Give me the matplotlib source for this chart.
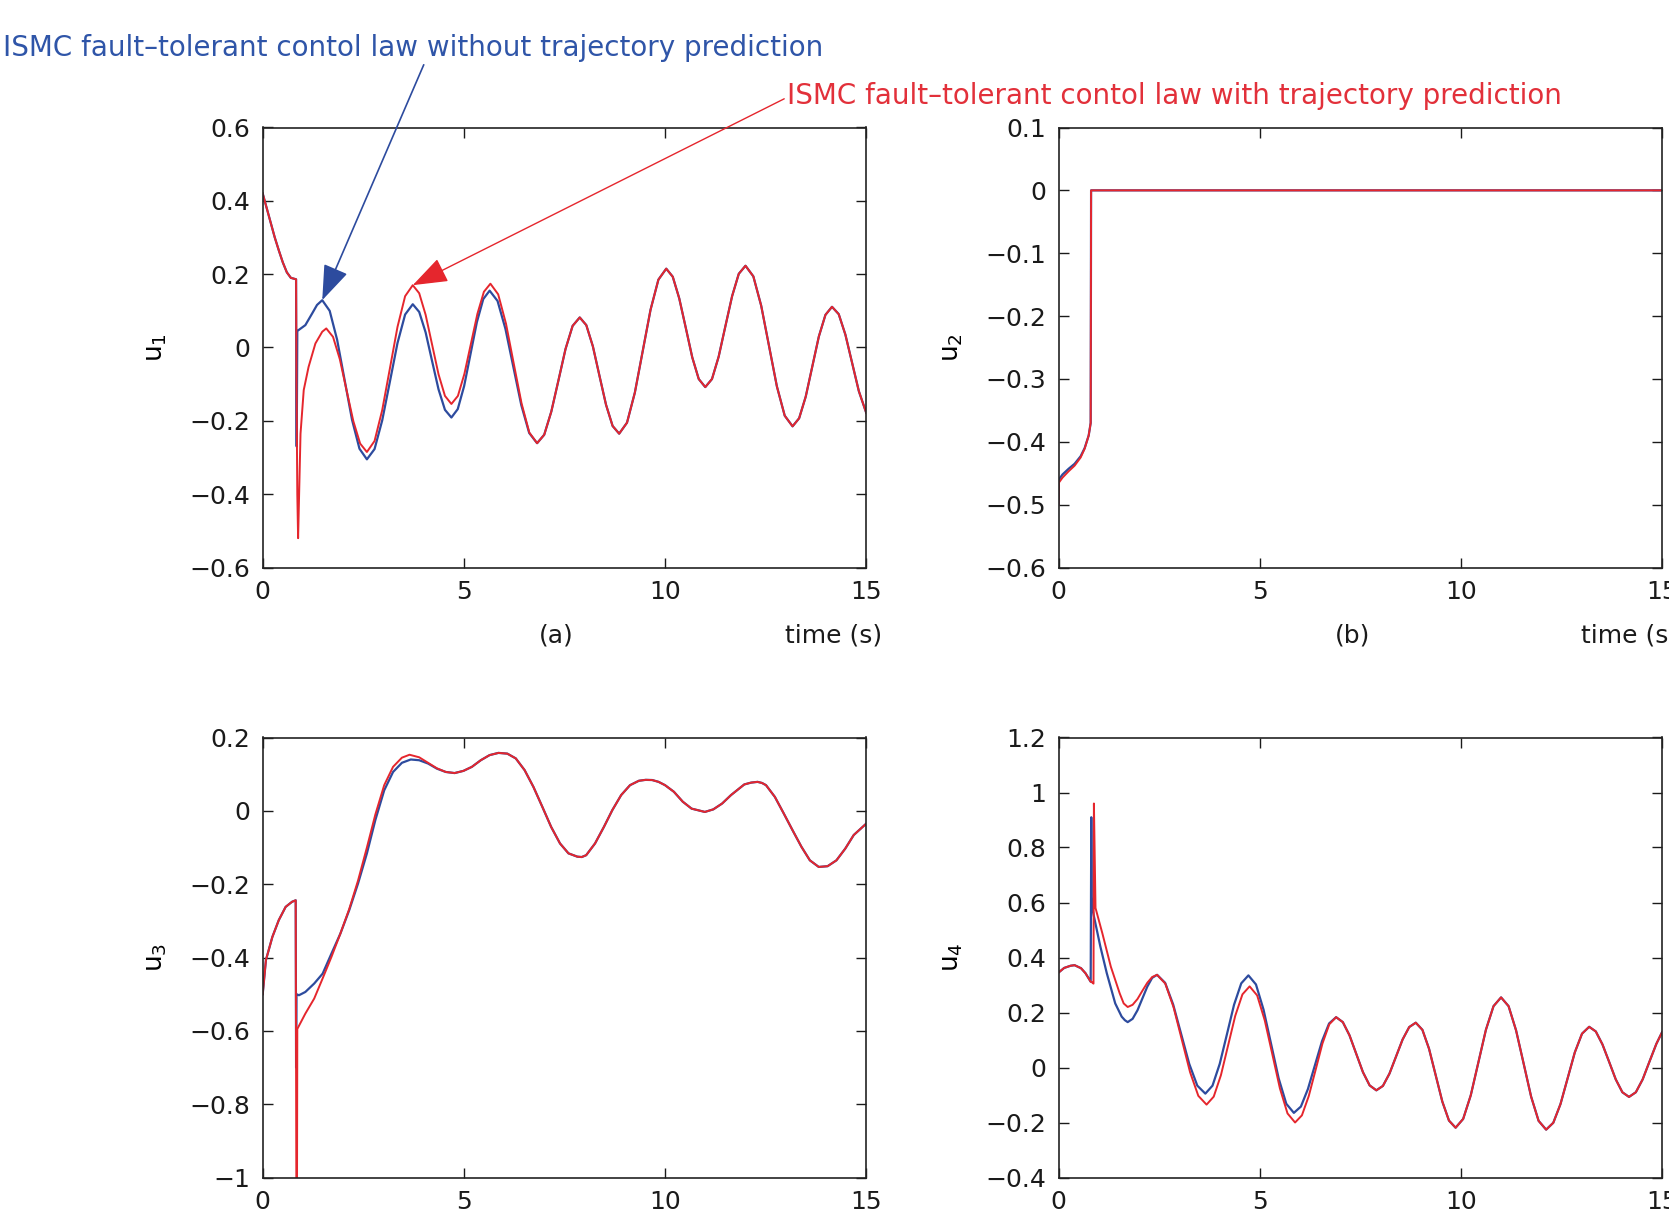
import numpy as np
import matplotlib.pyplot as plt
from matplotlib.ticker import FuncFormatter

# ---- data (time in s) ----
# u1 : common part before the fault, then the two controllers, then the common tail
a_start_t = [0.0, 0.1, 0.2, 0.3, 0.4, 0.5, 0.6, 0.7, 0.83]
a_start = [0.42, 0.38, 0.34, 0.30, 0.265, 0.232, 0.205, 0.19, 0.186]
a_blue_t = [0.835, 0.845, 0.86, 1.06, 1.23, 1.35, 1.48, 1.665, 1.85, 2.035, 2.22, 2.405, 2.59, 2.78, 2.97,
            3.16, 3.35, 3.54, 3.73, 3.89, 4.05, 4.21, 4.37, 4.53, 4.69, 4.848, 5.007, 5.165, 5.323, 5.482,
            5.64, 5.837, 6.033, 6.23, 6.427, 6.623]
a_blue = [-0.10, -0.27, 0.045, 0.061, 0.093, 0.116, 0.129, 0.100, 0.021, -0.088, -0.197, -0.276, -0.305,
          -0.277, -0.199, -0.094, 0.012, 0.090, 0.118, 0.097, 0.041, -0.037, -0.114, -0.170, -0.191, -0.168,
          -0.105, -0.018, 0.069, 0.132, 0.155, 0.127, 0.051, -0.053, -0.157, -0.233]
a_red_t = [0.84, 0.86, 0.88, 0.94, 1.02, 1.14, 1.31, 1.48, 1.58, 1.748, 1.917, 2.085, 2.253, 2.422, 2.59,
           2.78, 2.97, 3.16, 3.35, 3.54, 3.73, 3.89, 4.05, 4.21, 4.37, 4.53, 4.69, 4.852, 5.013, 5.175, 5.337,
           5.498, 5.66, 5.853, 6.047, 6.24, 6.433, 6.627]
a_red = [-0.10, -0.40, -0.52, -0.235, -0.116, -0.053, 0.011, 0.043, 0.052, 0.029, -0.032, -0.117, -0.201,
         -0.262, -0.285, -0.255, -0.171, -0.058, 0.056, 0.140, 0.17, 0.148, 0.089, 0.008, -0.073, -0.132,
         -0.154, -0.132, -0.072, 0.010, 0.092, 0.152, 0.174, 0.145, 0.065, -0.044, -0.152, -0.232]
a_tail_t = [6.82, 6.997, 7.173, 7.35, 7.527, 7.703, 7.88, 8.043, 8.207, 8.37, 8.533, 8.697, 8.86, 9.055, 9.25,
            9.445, 9.64, 9.835, 10.03, 10.192, 10.353, 10.515, 10.677, 10.838, 11.0, 11.167, 11.333, 11.5,
            11.667, 11.833, 12.0, 12.195, 12.39, 12.585, 12.78, 12.975, 13.17, 13.333, 13.497, 13.66,
            13.823, 13.987, 14.15, 14.317, 14.483, 14.65, 14.817, 15.0]
a_tail = [-0.261, -0.238, -0.175, -0.090, -0.004, 0.059, 0.082, 0.061, 0.003, -0.077, -0.156, -0.214,
          -0.235, -0.205, -0.123, -0.010, 0.103, 0.185, 0.215, 0.193, 0.134, 0.054, -0.027, -0.086, -0.108,
          -0.086, -0.025, 0.058, 0.140, 0.201, 0.223, 0.194, 0.114, 0.004, -0.106, -0.186, -0.215, -0.193,
          -0.134, -0.052, 0.030, 0.089, 0.111, 0.091, 0.035, -0.042, -0.119, -0.178]

# u2
b_t = [0.0, 0.01, 0.1, 0.25, 0.4, 0.55, 0.65, 0.75, 0.8, 0.81, 15.0]
b_blue = [-0.5, -0.46, -0.452, -0.443, -0.435, -0.423, -0.41, -0.39, -0.37, 0.0, 0.0]
b_red = [-0.5, -0.465, -0.457, -0.447, -0.438, -0.425, -0.411, -0.39, -0.37, 0.0, 0.0]

# u3
c_start_t = [0.0, 0.08, 0.24, 0.4, 0.57, 0.73, 0.82]
c_start = [-0.50, -0.407, -0.344, -0.298, -0.262, -0.248, -0.244]
c_blue_t = [0.83, 0.84, 0.9, 1.06, 1.28, 1.49, 1.71, 1.93, 2.15, 2.37, 2.59, 2.80, 3.02, 3.24, 3.46, 3.68,
            3.89, 4.11, 4.33]
c_blue = [-0.70, -0.50, -0.503, -0.494, -0.471, -0.444, -0.389, -0.335, -0.271, -0.198, -0.116, -0.025,
          0.056, 0.106, 0.131, 0.14, 0.138, 0.129, 0.115]
c_red_t = [0.84, 0.85, 0.86, 1.06, 1.28, 1.49, 1.71, 1.93, 2.15, 2.37, 2.59, 2.80, 3.02, 3.24, 3.46, 3.65,
           3.89, 4.11, 4.33]
c_red = [-1.2, -1.2, -0.595, -0.553, -0.512, -0.457, -0.398, -0.335, -0.268, -0.19, -0.10, -0.01, 0.07,
         0.12, 0.145, 0.153, 0.146, 0.131, 0.116]
c_tail_t = [4.55, 4.77, 4.99, 5.2, 5.42, 5.64, 5.86, 6.08, 6.29, 6.51, 6.73, 6.95, 7.17, 7.39, 7.6, 7.82,
            7.93, 8.04, 8.26, 8.48, 8.69, 8.91, 9.13, 9.35, 9.52, 9.68, 9.84, 10.0, 10.22, 10.44, 10.66,
            10.99, 11.2, 11.42, 11.64, 11.97, 12.14, 12.3, 12.41, 12.51, 12.73, 12.95, 13.17, 13.39, 13.6,
            13.82, 14.04, 14.26, 14.48, 14.69, 15.0]
c_tail = [0.106, 0.103, 0.109, 0.12, 0.138, 0.152, 0.158, 0.156, 0.143, 0.111, 0.065, 0.011, -0.044,
          -0.089, -0.116, -0.125, -0.126, -0.121, -0.089, -0.044, 0.002, 0.043, 0.07, 0.082, 0.0845, 0.084,
          0.079, 0.07, 0.052, 0.025, 0.006, -0.003, 0.004, 0.02, 0.043, 0.072, 0.077, 0.079, 0.076, 0.07,
          0.038, -0.007, -0.053, -0.098, -0.135, -0.153, -0.151, -0.135, -0.103, -0.066, -0.035]

# u4
d_start_t = [0.0, 0.14, 0.3, 0.4, 0.56, 0.67, 0.8]
d_start = [0.345, 0.362, 0.37, 0.372, 0.361, 0.343, 0.312]
d_blue_t = [0.815, 0.825, 0.84, 0.88, 1.04, 1.2, 1.41, 1.57, 1.65, 1.72, 1.842, 1.963, 2.085, 2.207, 2.328,
            2.45, 2.65, 2.85, 3.05, 3.25, 3.45, 3.65, 3.828, 4.007, 4.185, 4.363, 4.542, 4.72, 4.908, 5.097,
            5.285, 5.473, 5.662, 5.85, 6.025, 6.2, 6.375, 6.55, 6.725]
d_blue = [0.91, 0.62, 0.58, 0.55, 0.44, 0.343, 0.233, 0.185, 0.172, 0.165, 0.177, 0.208, 0.251, 0.294,
          0.326, 0.337, 0.308, 0.229, 0.121, 0.013, -0.066, -0.095, -0.066, 0.013, 0.120, 0.228, 0.306,
          0.335, 0.302, 0.210, 0.085, -0.040, -0.132, -0.165, -0.142, -0.078, 0.009, 0.096, 0.160]
d_red_t = [0.83, 0.87, 0.88, 0.92, 1.09, 1.3, 1.52, 1.62, 1.72, 1.842, 1.963, 2.085, 2.207, 2.328, 2.45,
           2.655, 2.86, 3.065, 3.27, 3.475, 3.68, 3.858, 4.037, 4.215, 4.393, 4.572, 4.75, 4.938, 5.127,
           5.315, 5.503, 5.692, 5.88, 6.05, 6.22, 6.39, 6.56, 6.73]
d_red = [0.31, 0.305, 0.96, 0.58, 0.488, 0.367, 0.27, 0.233, 0.22, 0.228, 0.249, 0.279, 0.308, 0.329, 0.337,
         0.305, 0.219, 0.101, -0.017, -0.103, -0.135, -0.106, -0.028, 0.080, 0.188, 0.266, 0.295, 0.262,
         0.171, 0.048, -0.076, -0.167, -0.2, -0.174, -0.104, -0.009, 0.087, 0.157]
d_tail_t = [6.9, 7.067, 7.233, 7.4, 7.567, 7.733, 7.9, 8.063, 8.227, 8.39, 8.553, 8.717, 8.88, 9.045, 9.21,
            9.375, 9.54, 9.705, 9.87, 10.058, 10.247, 10.435, 10.623, 10.812, 11.0, 11.187, 11.373, 11.56,
            11.747, 11.933, 12.12, 12.298, 12.477, 12.655, 12.833, 13.012, 13.19, 13.355, 13.52, 13.685,
            13.85, 14.015, 14.18, 14.35, 14.52, 14.69, 14.86, 15.0]
d_tail = [0.183, 0.165, 0.117, 0.050, -0.017, -0.065, -0.083, -0.067, -0.022, 0.040, 0.102, 0.147, 0.163,
          0.137, 0.068, -0.028, -0.124, -0.193, -0.219, -0.187, -0.101, 0.018, 0.137, 0.223, 0.255, 0.223,
          0.135, 0.015, -0.106, -0.194, -0.226, -0.201, -0.133, -0.039, 0.055, 0.123, 0.148, 0.131, 0.084,
          0.021, -0.043, -0.090, -0.107, -0.090, -0.043, 0.022, 0.086, 0.128]

y_labels = ['u_1', 'u_2', 'u_3', 'u_4']
y_limits = [(-0.6, 0.6), (-0.6, 0.1), (-1.0, 0.2), (-0.4, 1.2)]
y_steps = [0.2, 0.1, 0.2, 0.2]
x_ticks = [0, 5, 10, 15]
panel_tags = ['(a)', '(b)']

blue = '#2d4b9e'
red = '#e5262d'
blue_txt = '#2f55a8'
red_txt = '#e2303a'

# ---- figure ----
W, H = 1669, 1219
fig = plt.figure(figsize=(W / 100, H / 100), dpi=100)

# axes boxes in pixels (left, top), all the same size
aw, ah = 603.5, 440
boxes = [(262.7, 127.5), (1058.5, 127.5), (262.7, 737.5), (1058.5, 737.5)]
axs = [fig.add_axes([x / W, 1 - (y + ah) / H, aw / W, ah / H]) for x, y in boxes]

series = [
    (a_start_t + a_blue_t + a_tail_t, a_start + a_blue + a_tail,
     a_start_t + a_red_t + a_tail_t, a_start + a_red + a_tail),
    (b_t, b_blue, b_t, b_red),
    (c_start_t + c_blue_t + c_tail_t, c_start + c_blue + c_tail,
     c_start_t + c_red_t + c_tail_t, c_start + c_red + c_tail),
    (d_start_t + d_blue_t + d_tail_t, d_start + d_blue + d_tail,
     d_start_t + d_red_t + d_tail_t, d_start + d_red + d_tail),
]


def tick_fmt(v, pos):
    v = round(v, 2)
    if abs(v) < 1e-9:
        return '0'
    return ('%g' % v).replace('-', '\u2212')


fmt = FuncFormatter(tick_fmt)

for i, ax in enumerate(axs):
    tb, yb, tr, yr = series[i]
    ax.plot(tb, yb, color=blue, lw=1.6, solid_joinstyle='round')
    ax.plot(tr, yr, color=red, lw=1.4, solid_joinstyle='round')
    lo, hi = y_limits[i]
    ax.set_xlim(0, 15)
    ax.set_ylim(lo, hi)
    ax.set_xticks(x_ticks)
    ax.set_yticks(np.arange(lo, hi + 1e-9, y_steps[i]))
    ax.xaxis.set_major_formatter(fmt)
    ax.yaxis.set_major_formatter(fmt)
    ax.tick_params(direction='in', top=True, right=True, length=7, width=1.0,
                   labelsize=18, pad=9, colors='#1a1a1a')
    for s in ax.spines.values():
        s.set_linewidth(1.2)
        s.set_color('#222222')
    ax.set_ylabel(r'$\mathregular{%s}$' % y_labels[i], fontsize=19, va='center')
    ax.yaxis.set_label_coords(-0.177, 0.5)

# panel tags and time label on the top row
for i in range(2):
    axs[i].text(0.487, -0.155, panel_tags[i], transform=axs[i].transAxes,
                ha='center', va='center', fontsize=18, color='#1a1a1a')
    axs[i].text(0.865, -0.155, 'time (s)', transform=axs[i].transAxes,
                ha='left', va='center', fontsize=18, color='#1a1a1a')

# arrows with the two captions
head = '-|>,head_length=1.1,head_width=0.4'
axs[0].annotate('ISMC fault\u2013tolerant contol law without trajectory prediction',
                xy=(1.48, 0.129), xycoords='data',
                xytext=(0.002, 1 - 48 / H), textcoords='figure fraction',
                ha='left', va='center', fontsize=20, color=blue_txt, annotation_clip=False,
                arrowprops=dict(arrowstyle=head, color=blue, lw=1.2, shrinkA=0, shrinkB=0,
                                relpos=(0.514, 0.0)))
axs[0].annotate('ISMC fault\u2013tolerant contol law with trajectory prediction',
                xy=(3.73, 0.17), xycoords='data',
                xytext=(787 / W, 1 - 96 / H), textcoords='figure fraction',
                ha='left', va='center', fontsize=20, color=red_txt, annotation_clip=False,
                arrowprops=dict(arrowstyle=head, color=red, lw=1.0, shrinkA=0, shrinkB=0,
                                relpos=(0.0, 0.45)))

fig.savefig('out.png', dpi=100)
